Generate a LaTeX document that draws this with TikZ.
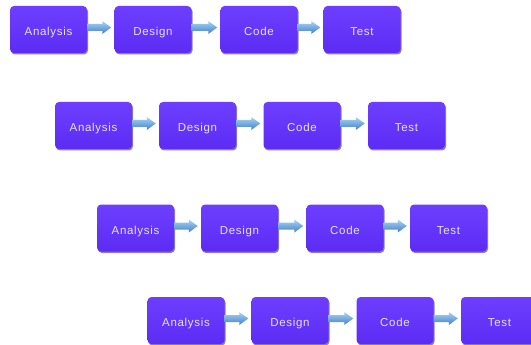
\documentclass[tikz,border=0pt]{standalone}
\usepackage{fontspec}
\newfontfamily\boxfont[LetterSpace=6]{Liberation Sans}
\usetikzlibrary{shadows,calc}

\definecolor{boxtop}{RGB}{110,62,255}
\definecolor{boxbot}{RGB}{92,44,244}
\definecolor{boxshadow}{RGB}{40,20,120}
\definecolor{boxtext}{RGB}{230,226,255}
\definecolor{arrtop}{RGB}{168,212,245}
\definecolor{arrbot}{RGB}{66,128,200}

\tikzset{
  phase/.style={
    rectangle, rounded corners=4pt,
    minimum width=77pt, minimum height=47pt, inner sep=0pt,
    text height=12pt, text depth=0pt,
    top color=boxtop, bottom color=boxbot,
    drop shadow={shadow xshift=1pt, shadow yshift=-1.5pt,
                 fill=boxshadow, opacity=0.55},
    text=boxtext, font=\boxfont\fontsize{11.5}{12}\selectfont
  },
  flowshade/.style={top color=arrtop, bottom color=arrbot, draw=none}
}

% block arrow from the east side of #1 to the west side of #2
\newcommand{\flowarrow}[2]{%
  \shade[flowshade] let \p1=(#1.east), \p2=(#2.west) in
    (\x1,\y1+5.5pt) -- (\x2-12pt,\y1+5.5pt) -- (\x2-12pt,\y1+8.5pt)
    -- (\x2-3pt,\y1+2pt) -- (\x2-12pt,\y1-4.5pt) -- (\x2-12pt,\y1-1.5pt)
    -- (\x1,\y1-1.5pt) -- cycle;}

\begin{document}
\begin{tikzpicture}[x=1pt,y=-1pt]
\useasboundingbox (0,0) rectangle (531,345);
\clip (0,0) rectangle (531,345);

% row 1
\node[phase] (a1) at (48.5,29.5)  {Analysis};
\node[phase] (d1) at (153,29.5)   {Design};
\node[phase] (c1) at (259,29.5)   {Code};
\node[phase] (t1) at (362,29.5)   {Test};
% row 2
\node[phase] (a2) at (93.5,125.5)  {Analysis};
\node[phase] (d2) at (197.5,125.5) {Design};
\node[phase] (c2) at (302,125.5)   {Code};
\node[phase] (t2) at (406.5,125.5) {Test};
% row 3
\node[phase] (a3) at (135.5,228) {Analysis};
\node[phase] (d3) at (239.5,228) {Design};
\node[phase] (c3) at (345,228)   {Code};
\node[phase] (t3) at (448.5,228) {Test};
% row 4
\node[phase] (a4) at (186,320.5) {Analysis};
\node[phase] (d4) at (290,320.5) {Design};
\node[phase] (c4) at (395,320.5) {Code};
\node[phase] (t4) at (499.5,320.5) {Test};

\foreach \r in {1,2,3,4}{
  \flowarrow{a\r}{d\r}
  \flowarrow{d\r}{c\r}
  \flowarrow{c\r}{t\r}
}
\end{tikzpicture}
\end{document}
